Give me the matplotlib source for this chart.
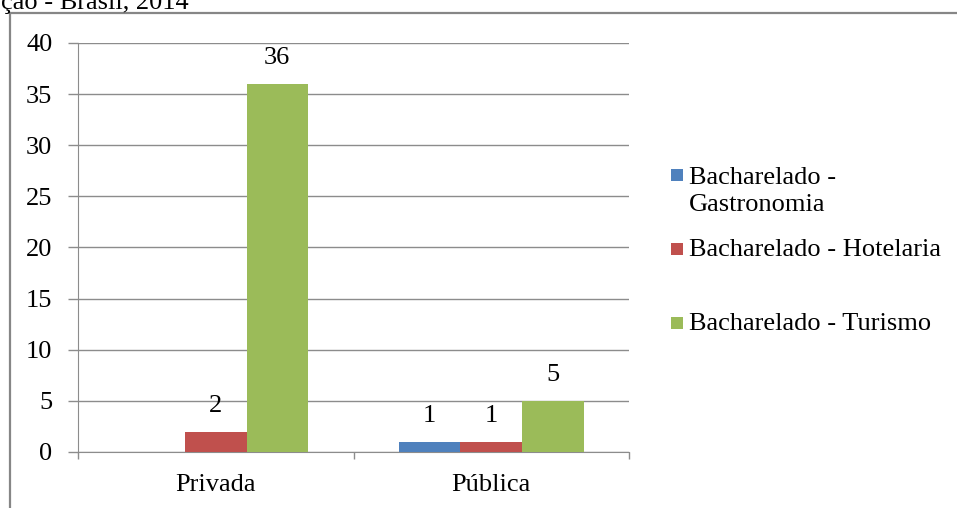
import matplotlib
matplotlib.use("Agg")
import matplotlib.pyplot as plt
from matplotlib.patches import Rectangle
import numpy as np

categories = ["Privada", "Pública"]
series_names = ["Bacharelado -\nGastronomia", "Bacharelado - Hotelaria", "Bacharelado - Turismo"]
gastronomia = [0, 1]
hotelaria = [2, 1]
turismo = [36, 5]
yticks = [0, 5, 10, 15, 20, 25, 30, 35, 40]
caption = "ção - Brasil, 2014"

colors = ["#4F81BD", "#C0504D", "#9BBB59"]

W, H = 957, 508
DPI = 100
plt.rcParams['font.family'] = ['Liberation Serif', 'DejaVu Serif']
FS = 19

fig = plt.figure(figsize=(W / DPI, H / DPI), dpi=DPI)

def fx(px):
    return px / W

def fy(py):
    return 1 - py / H

# outer chart frame (partly outside the picture)
fig.patches.append(Rectangle((fx(10), fy(H + 20)), fx(W + 20 - 10), fy(13) - fy(H + 20),
                             transform=fig.transFigure, fill=False,
                             edgecolor="#868686", linewidth=1.6, zorder=0))

fig.text(fx(1), fy(9), caption, fontsize=FS, ha="left", va="baseline", color="black")

ax = fig.add_axes([fx(78), fy(452), fx(629) - fx(78), fy(43) - fy(452)])

x = np.arange(len(categories))
bw = 0.2233
all_series = [gastronomia, hotelaria, turismo]
for i, (vals, c, name) in enumerate(zip(all_series, colors, series_names)):
    pos = x + (i - 1) * bw
    bars = ax.bar(pos, vals, width=bw, color=c, label=name, zorder=3)
    for b, v in zip(bars, vals):
        if v > 0:
            ax.annotate(str(v), (b.get_x() + b.get_width() / 2, v),
                        xytext=(0, 10.5), textcoords="offset points",
                        ha="center", va="bottom", fontsize=FS)

ax.set_xlim(-0.5, 1.5)
ax.set_ylim(0, 40)
ax.set_yticks(yticks)
ax.set_yticklabels([str(t) for t in yticks])
ax.yaxis.grid(True, color="#8C8C8C", linewidth=1.0, zorder=0)
ax.set_axisbelow(True)

ax.set_xticks(x)
ax.set_xticklabels(categories)
ax.set_xticks([-0.5, 0.5, 1.5], minor=True)
ax.tick_params(axis="x", which="major", length=0, pad=15.5, labelsize=FS)
ax.tick_params(axis="x", which="minor", length=5, color="#8C8C8C", width=1.0, direction="out")
ax.tick_params(axis="y", length=7, color="#8C8C8C", width=1.0, pad=11.5, labelsize=FS)

for s in ["top", "right"]:
    ax.spines[s].set_visible(False)
ax.spines["left"].set_color("#8C8C8C")
ax.spines["bottom"].set_color("#8C8C8C")

# legend, evenly spaced entries as in the reference
sq = 12
line_step = 29
for i, (c, name) in enumerate(zip(colors, series_names)):
    cy = 175 + 74 * i
    fig.patches.append(Rectangle((fx(671), fy(cy + sq / 2)), fx(sq), fy(0) - fy(sq),
                                 transform=fig.transFigure, facecolor=c,
                                 edgecolor="none"))
    nlines = name.count("\n") + 1
    base_last = cy + 7.5 + (nlines - 1) * line_step
    fig.text(fx(689), fy(base_last), name, fontsize=FS, ha="left", va="baseline",
             linespacing=1.32)

fig.savefig("out.png", dpi=DPI)
